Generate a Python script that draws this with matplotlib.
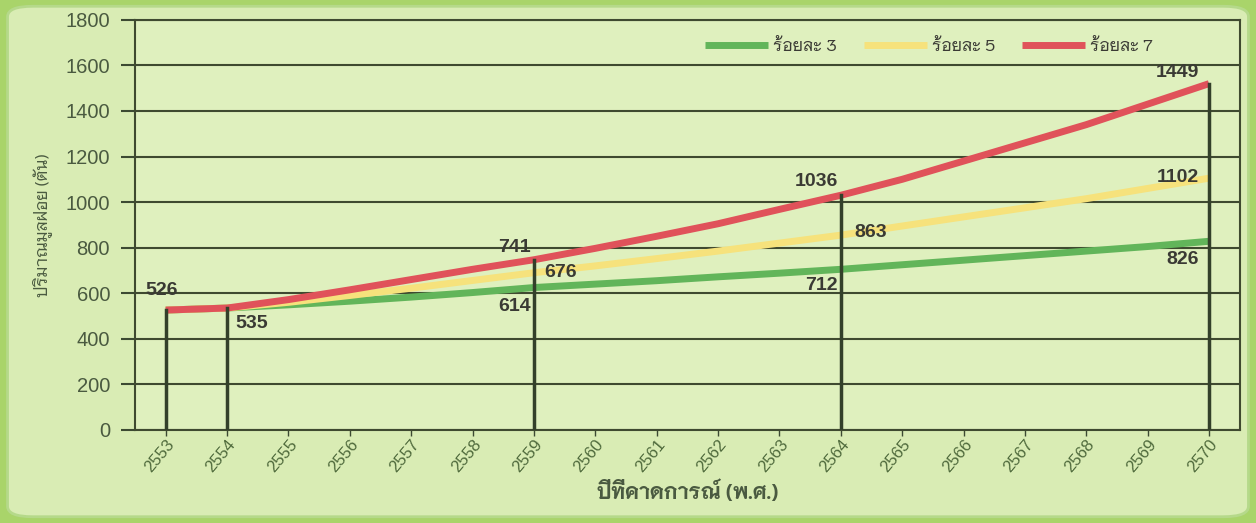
import matplotlib
matplotlib.use("Agg")
import matplotlib.pyplot as plt
from matplotlib.patches import FancyBboxPatch

plt.rcParams['font.family'] = ['Liberation Sans', 'Niramit', 'DejaVu Sans']
thai = ['Niramit', 'DejaVu Sans']

# Data
years = list(range(2553, 2571))
pct3 = [526, 535, 549, 565, 583, 603, 625, 640, 655, 672, 688, 705, 725, 745, 765, 785, 805, 828]
pct5 = [526, 535, 560, 590, 622, 656, 690, 720, 752, 785, 820, 855, 895, 935, 975, 1015, 1060, 1105]
pct7 = [526, 535, 572, 615, 660, 705, 747, 797, 850, 905, 968, 1030, 1100, 1180, 1260, 1340, 1430, 1520]
series_names = ['ร้อยละ 3', 'ร้อยละ 5', 'ร้อยละ 7']
series_colors = ['#62b55a', '#f6e27c', '#e0525a']

# marked years and their printed labels
mark_years = [2553, 2554, 2559, 2564, 2570]
labels_3 = {2559: '614', 2564: '712', 2570: '826'}
labels_5 = {2559: '676', 2564: '863', 2570: '1102'}
labels_7 = {2553: '526', 2554: '535', 2559: '741', 2564: '1036', 2570: '1449'}

fig = plt.figure(figsize=(12.56, 5.23), dpi=100)
fig.patch.set_facecolor('#a9d46a')
bg = FancyBboxPatch((0.006, 0.012), 0.988, 0.976, boxstyle='round,pad=0,rounding_size=0.02',
                    transform=fig.transFigure, facecolor='#d9ecb4', edgecolor='#b5d98a', lw=2,
                    zorder=-10)
fig.patches.append(bg)

ax = fig.add_axes([0.1075, 0.178, 0.8795, 0.784])
ax.set_facecolor('#dff0be')

for vals, name, col in zip([pct3, pct5, pct7], series_names, series_colors):
    ax.plot(years, vals, color=col, lw=5, label=name, zorder=3, solid_capstyle='butt')

# drop lines from the top curve
for yr in mark_years:
    top = pct7[years.index(yr)]
    ax.plot([yr, yr], [0, top], color='#33402a', lw=2.5, zorder=4)

ax.set_xlim(2552.5, 2570.5)
ax.set_ylim(0, 1800)
ax.set_yticks(range(0, 1801, 200))
ax.set_xticks(years)
ax.set_xticklabels([str(y) for y in years], rotation=50, ha='right', rotation_mode='anchor')
ax.tick_params(axis='y', labelsize=14.5, colors='#3c4a32', length=10, width=1.5, pad=8,
               labelcolor='#4a5a40')
ax.tick_params(axis='x', labelsize=12, colors='#3c4a32', length=4, width=1, pad=1,
               labelcolor='#4f6a3c')
ax.grid(axis='y', color='#3f4a30', lw=1.5, zorder=1)
for s in ax.spines.values():
    s.set_color('#3f4a30')
    s.set_linewidth(1.5)

ax.set_ylabel('ปริมาณมูลฝอย (ตัน)', fontsize=12, color='#4a5a40', labelpad=10, family=thai)
ax.set_xlabel('ปีที่คาดการณ์ (พ.ศ.)', fontsize=15, color='#4a5a40', fontweight='bold',
              labelpad=4, family=thai)

# value labels: offsets in pixels (dx, dy, ha)
offs_7 = {2553: (-4, 20, 'center'), 2554: (8, -15, 'left'), 2559: (-3, 12, 'right'),
          2564: (-3, 14, 'right'), 2570: (-10, 11, 'right')}
offs_5 = {2559: (10, 0, 'left'), 2564: (14, 3, 'left'), 2570: (-10, 1, 'right')}
offs_3 = {2559: (-3, -19, 'right'), 2564: (-3, -16, 'right'), 2570: (-10, -18, 'right')}
for vals, labs, offs in [(pct7, labels_7, offs_7), (pct5, labels_5, offs_5), (pct3, labels_3, offs_3)]:
    for yr, txt in labs.items():
        dx, dy, ha = offs[yr]
        ax.annotate(txt, (yr, vals[years.index(yr)]), xytext=(dx, dy), textcoords='offset pixels',
                    ha=ha, va='center', fontsize=14, fontweight='bold', color='#3a3a34', zorder=6)

leg = ax.legend(loc='upper right', ncol=3, frameon=False, handlelength=3.8,
                columnspacing=1.6, handletextpad=0.3, bbox_to_anchor=(0.935, 0.99),
                prop={'family': thai, 'size': 12})
for t in leg.get_texts():
    t.set_color('#3a3a34')

fig.savefig('out.png', dpi=100, facecolor=fig.get_facecolor())
